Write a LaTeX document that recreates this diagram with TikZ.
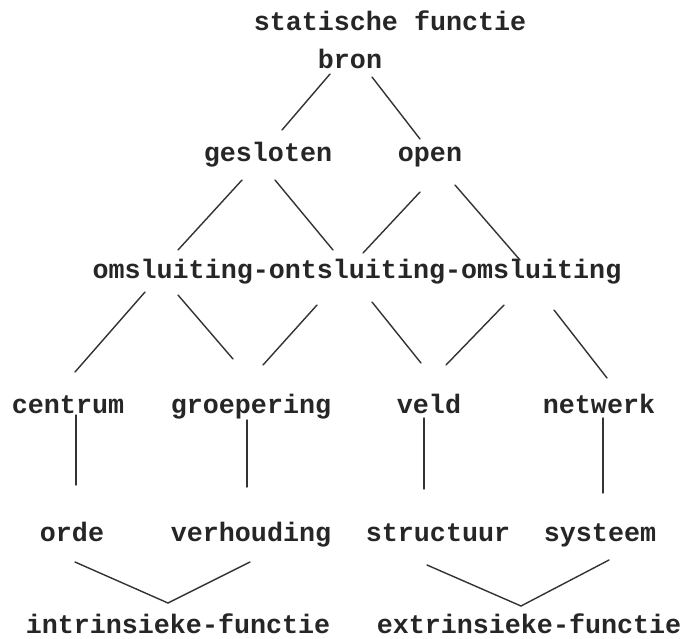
\documentclass[tikz,border=0pt]{standalone}
\usepackage{fontspec}
\setmonofont{Liberation Mono}
\begin{document}
\begin{tikzpicture}[x=1pt,y=-1pt,
  lbl/.style={anchor=mid,inner sep=0pt,text=black!85,yshift=-6pt,
    font=\ttfamily\bfseries\fontsize{26.7}{30}\selectfont},
  ln/.style={draw=black!80,line width=1.4pt,line cap=round}]
\useasboundingbox[fill=white] (0,0) rectangle (688,638);
% texts
\node[lbl] (stat) at (390,22) {statische functie};
\node[lbl] (bron) at (350,60) {bron};
\node[lbl] (gesl) at (268,153) {gesloten};
\node[lbl] (open) at (430,153) {open};
\node[lbl] (oms) at (357,270) {omsluiting-ontsluiting-omsluiting};
\node[lbl] (cent) at (68,405) {centrum};
\node[lbl] (groe) at (251,405) {groepering};
\node[lbl] (veld) at (429,405) {veld};
\node[lbl] (netw) at (599,405) {netwerk};
\node[lbl] (orde) at (72,533) {orde};
\node[lbl] (verh) at (251,533) {verhouding};
\node[lbl] (stru) at (438,533) {structuur};
\node[lbl] (syst) at (600,533) {systeem};
\node[lbl] (intr) at (178,625) {intrinsieke-functie};
\node[lbl] (extr) at (529,625) {extrinsieke-functie};
% connector end points
\coordinate (b1) at (330,74);  \coordinate (g1) at (282,130);
\coordinate (b2) at (372,77);  \coordinate (o1) at (420,139);
\coordinate (g2) at (242,180); \coordinate (m1) at (178,250);
\coordinate (g3) at (275,180); \coordinate (m2) at (333,250);
\coordinate (o2) at (420,192); \coordinate (m3) at (363,253);
\coordinate (o3) at (455,185); \coordinate (m4) at (520,260);
\coordinate (m5) at (145,292); \coordinate (c1) at (75,372);
\coordinate (m6) at (178,295); \coordinate (r1) at (233,359);
\coordinate (m7) at (317,305); \coordinate (r2) at (263,365);
\coordinate (m8) at (372,302); \coordinate (v1) at (421,363);
\coordinate (m9) at (504,305); \coordinate (v2) at (446,365);
\coordinate (m10) at (554,310); \coordinate (n1) at (607,378);
\coordinate (c2) at (76,415);  \coordinate (od) at (76,485);
\coordinate (r3) at (247,420); \coordinate (vh) at (247,487);
\coordinate (v3) at (424,418); \coordinate (st) at (424,489);
\coordinate (n2) at (603,418); \coordinate (sy) at (603,493);
\coordinate (od2) at (75,562); \coordinate (ip) at (168,603); \coordinate (vh2) at (250,562);
\coordinate (st2) at (427,565); \coordinate (ep) at (521,606); \coordinate (sy2) at (609,560);
% connectors
\draw[ln] (b1) -- (g1);
\draw[ln] (b2) -- (o1);
\draw[ln] (g2) -- (m1);
\draw[ln] (g3) -- (m2);
\draw[ln] (o2) -- (m3);
\draw[ln] (o3) -- (m4);
\draw[ln] (m5) -- (c1);
\draw[ln] (m6) -- (r1);
\draw[ln] (m7) -- (r2);
\draw[ln] (m8) -- (v1);
\draw[ln] (m9) -- (v2);
\draw[ln] (m10) -- (n1);
\draw[ln] (c2) -- (od);
\draw[ln] (r3) -- (vh);
\draw[ln] (v3) -- (st);
\draw[ln] (n2) -- (sy);
\draw[ln] (od2) -- (ip) -- (vh2);
\draw[ln] (st2) -- (ep) -- (sy2);
\end{tikzpicture}
\end{document}
